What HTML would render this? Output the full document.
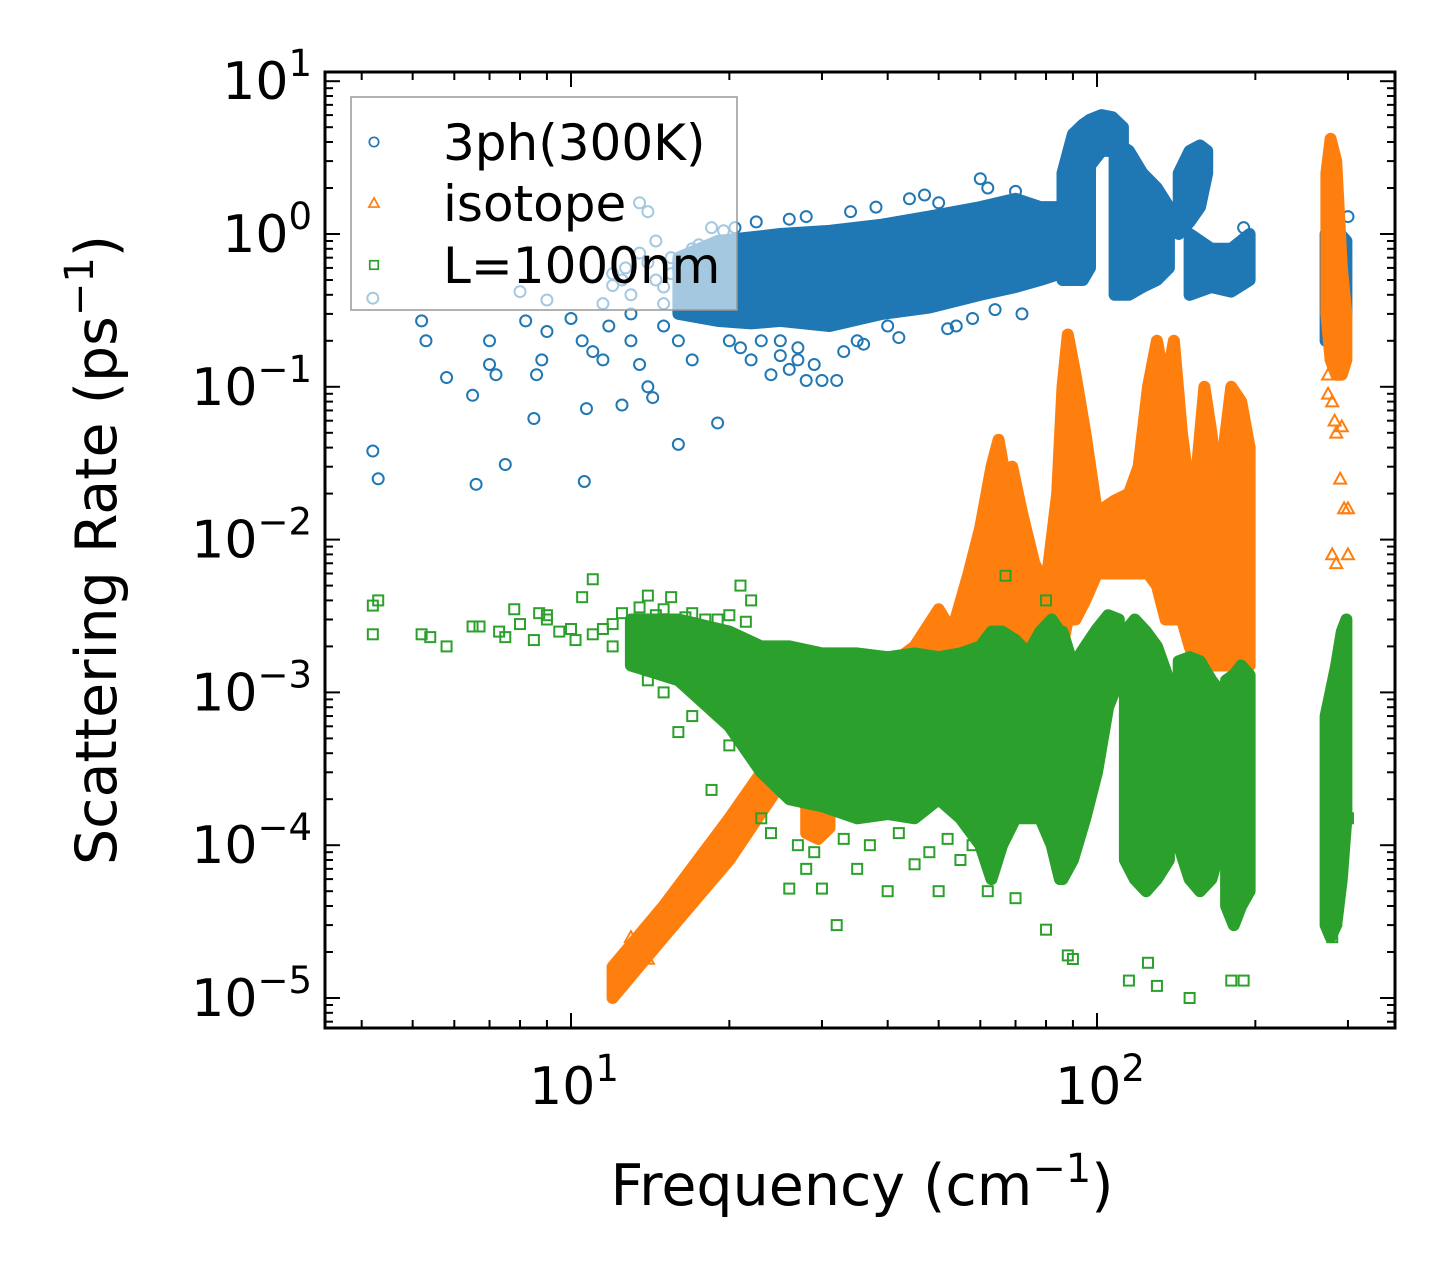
<!DOCTYPE html>
<html><head><meta charset="utf-8"><style>
body{margin:0;background:#fff;}
svg{display:block;font-family:"DejaVu Sans","Liberation Sans",sans-serif;}
</style></head><body>
<svg id="chart" width="1455" height="1278" viewBox="0 0 1455 1278">
<rect x="0" y="0" width="1455" height="1278" fill="#fff"/>
<g id="plot"></g>
<g id="axes"></g>
<g id="legend"></g>
</svg>
<script>
// ---- data (frequency in cm^-1, rate in ps^-1) ----
const blueBand1F=[16,19,22,25,31,39,48,60,70,78,85];
const blueBand1Lo=[0.3,0.27,0.26,0.27,0.25,0.3,0.33,0.4,0.45,0.5,0.55];
const blueBand1Hi=[0.7,0.9,0.95,1.0,1.05,1.15,1.3,1.5,1.7,1.5,1.5];
const blueBand2F=[86,90,94,97];
const blueBand2Lo=[0.5,0.5,0.5,0.6];
const blueBand2Hi=[2.5,4.5,5.2,5.6];
const blueBand3F=[97,102,107,112];
const blueBand3Lo=[2.8,3.5,3.5,3.0];
const blueBand3Hi=[5.6,6.0,5.8,5.0];
const blueBand4F=[108,115,122,130,137];
const blueBand4Lo=[0.4,0.4,0.45,0.5,0.6];
const blueBand4Hi=[4.0,3.5,2.5,2.0,1.5];
const blueBand5F=[143,150,157,162];
const blueBand5Lo=[1.0,1.2,1.5,2.5];
const blueBand5Hi=[2.5,3.5,3.8,3.5];
const blueBand6F=[150,165,180,195];
const blueBand6Lo=[0.4,0.45,0.42,0.5];
const blueBand6Hi=[1.0,0.8,0.8,1.0];
const blueBand7F=[272,280,290,298];
const blueBand7Lo=[0.2,0.2,0.25,0.3];
const blueBand7Hi=[1.0,1.1,1.0,0.9];
const blueF=[4.2,4.2,4.3,5.2,5.3,5.8,6.5,6.6,7,7.2,7.5,8.2,8.5,8.6,8.8,9,9,10,10.5,10.6,10.7,11,11.5,12,12.5,13,13.5,14,14.3,14.5,15,15.5,16,16,17,18,19,13.5,14,18.5,12.7,20,22,24,26,28,30,32,22,17.5,19,11.8,13,15,16.5,18,20,21,23,25,27,24,35,40,45,54,60,62,70,72,50,88,96,190,300,12,13,14,15,16,17,18,11.5,12.5,13.5,14.5,15.5,16.5,17.5,8,7,21,23,25,27,29,33,36,42,52,58,64,47,44,38,34,28,26,22.5,20.5,19.5];
const blueR=[0.38,0.038,0.025,0.27,0.2,0.115,0.088,0.023,0.14,0.12,0.031,0.27,0.062,0.12,0.15,0.23,0.37,0.28,0.2,0.024,0.072,0.17,0.15,0.46,0.076,0.3,0.14,0.1,0.085,0.5,0.25,0.7,0.042,0.2,0.15,0.3,0.058,1.6,1.4,1.1,0.6,0.2,0.15,0.12,0.13,0.11,0.11,0.11,0.4,0.5,0.35,0.25,0.2,0.35,0.3,0.45,0.5,0.3,0.28,0.2,0.18,0.35,0.2,0.25,0.6,0.25,2.3,2.0,1.9,0.3,1.6,1.9,5.0,1.1,1.3,0.55,0.4,0.65,0.45,0.6,0.8,0.7,0.35,0.5,0.75,0.9,0.55,0.65,0.85,0.42,0.2,0.18,0.2,0.16,0.15,0.14,0.17,0.19,0.21,0.24,0.28,0.32,1.8,1.7,1.5,1.4,1.3,1.25,1.2,1.1,1.05];

const orBand1F=[12,15,20,25,28];
const orBand1Lo=[1.0e-5,2.5e-5,8e-5,2.5e-4,4e-4];
const orBand1Hi=[1.6e-5,4e-5,1.5e-4,4.5e-4,8e-4];
const orBand2F=[28,29.5,31];
const orBand2Lo=[1.2e-4,1.1e-4,1.3e-4];
const orBand2Hi=[5e-4,7e-4,5e-4];
const orBand3F=[30,38,45,50,53,57,60,63,65,67,69,72,76,80,84,86,88,91,95,100,108,115,120,125,130,135,140,145,150,155,160,165,170,180,188,195];
const orBand3Lo=[6e-4,5e-4,6e-4,6e-4,7e-4,8e-4,8e-4,1e-3,1e-3,1e-3,1e-3,1e-3,1e-3,1.2e-3,1.5e-3,2e-3,3e-3,3e-3,4e-3,6e-3,6e-3,6e-3,6e-3,6e-3,5e-3,3e-3,3e-3,3e-3,2e-3,1.5e-3,1.5e-3,1.5e-3,1.5e-3,1.5e-3,1.5e-3,1.5e-3];
const orBand3Hi=[1e-3,1.3e-3,2e-3,3.5e-3,2.5e-3,6e-3,1.2e-2,3e-2,4.5e-2,2.5e-2,3e-2,1.5e-2,7e-3,5e-3,2e-2,0.1,0.22,0.12,5e-2,1.5e-2,1.8e-2,2e-2,3e-2,0.1,0.2,0.1,0.2,0.05,0.02,0.03,0.1,0.05,0.02,0.1,0.08,0.04];
const orBand4F=[273,278,285,292,298];
const orBand4Lo=[0.3,0.15,0.12,0.12,0.15];
const orBand4Hi=[2.5,4.2,3.0,0.6,0.3];
const orF=[275,280,285,290,295,300,280,285,300,292,140,120,165,190,150,275,283,13,14,12.5];
const orR=[0.12,0.08,0.05,0.025,0.016,0.016,0.008,0.007,0.008,0.055,0.1,0.01,0.012,0.005,0.003,0.09,0.06,2.5e-5,1.8e-5,1.3e-5];

const grBand1F=[13,16,20,23,26,30,35,40,45,50,55,60,63,66,70,74,78,82,85];
const grBand1Lo=[1.5e-3,1.2e-3,6e-4,3e-4,2e-4,1.8e-4,1.5e-4,1.6e-4,1.5e-4,2e-4,1.5e-4,1e-4,6e-5,1e-4,1.5e-4,1.5e-4,1.5e-4,1e-4,6e-5];
const grBand1Hi=[3e-3,3e-3,2.5e-3,2e-3,2e-3,1.8e-3,1.8e-3,1.7e-3,1.8e-3,1.7e-3,1.8e-3,2e-3,2.5e-3,2.5e-3,2.2e-3,1.8e-3,2.5e-3,3e-3,2.5e-3];
const grBand2F=[86,90,95,100,105,110];
const grBand2Lo=[6e-5,8e-5,1.5e-4,3e-4,8e-4,1.2e-3];
const grBand2Hi=[2.5e-3,1.5e-3,2e-3,2.6e-3,3.2e-3,3e-3];
const grBand3F=[113,118,124,130,137];
const grBand3Lo=[8e-5,6e-5,5e-5,6e-5,8e-5];
const grBand3Hi=[2.5e-3,3e-3,2.5e-3,2e-3,1.2e-3];
const grBand4F=[143,150,157,165,172];
const grBand4Lo=[1e-4,6e-5,5e-5,6e-5,1e-4];
const grBand4Hi=[1.6e-3,1.7e-3,1.6e-3,1.2e-3,1e-3];
const grBand5F=[176,182,188,195];
const grBand5Lo=[4e-5,3e-5,4e-5,5e-5];
const grBand5Hi=[1.2e-3,1.3e-3,1.5e-3,1.3e-3];
const grBand6F=[272,278,285,292,298];
const grBand6Lo=[3e-5,2.5e-5,3e-5,6e-5,1.5e-4];
const grBand6Hi=[7e-4,1e-3,1.5e-3,2.5e-3,3e-3];
const grF=[4.2,4.2,4.3,5.2,5.4,5.8,6.5,6.7,7.3,7.5,7.8,8,8.5,8.7,9,9.5,10.2,10.5,11,11.5,12,14,15.5,18,21,22,14,15,16,17,18.5,20,23,26,28,30,32,35,40,45,50,55,62,70,80,88,90,115,125,150,180,190,280,285,300,67,80,130,9,10,11,12,24,27,29,33,37,42,48,52,58,12.5,13.5,14.5,15,16.5,17,19,20,21.5];
const grR=[2.4e-3,3.7e-3,4e-3,2.4e-3,2.3e-3,2e-3,2.7e-3,2.7e-3,2.5e-3,2.3e-3,3.5e-3,2.8e-3,2.2e-3,3.3e-3,3e-3,2.5e-3,2.2e-3,4.2e-3,5.5e-3,2.6e-3,2e-3,4.3e-3,4.2e-3,3e-3,5e-3,4e-3,1.2e-3,1e-3,5.5e-4,7e-4,2.3e-4,4.5e-4,1.5e-4,5.2e-5,7e-5,5.2e-5,3e-5,7e-5,5e-5,7.5e-5,5e-5,8e-5,5e-5,4.5e-5,2.8e-5,1.9e-5,1.8e-5,1.3e-5,1.7e-5,1e-5,1.3e-5,1.3e-5,2.5e-5,3.2e-5,1.5e-4,5.8e-3,4e-3,1.2e-5,3.2e-3,2.6e-3,2.4e-3,2.8e-3,1.2e-4,1e-4,9e-5,1.1e-4,1e-4,1.2e-4,9e-5,1.1e-4,1e-4,3.3e-3,3.6e-3,3.2e-3,3.5e-3,3.1e-3,3.3e-3,3.0e-3,3.2e-3,2.9e-3];

const xTickVals=[10,100];
const xTickLabels=["1","2"];
const yTickExps=[1,0,-1,-2,-3,-4,-5];
const yTickLabels=["1","0","\u22121","\u22122","\u22123","\u22124","\u22125"];

// ---- axis functions ----
const X0=325,X1=1395,Y0=72,Y1=1028;
function xs(f){return 571+526*(Math.log10(f)-1);}
function ys(r){return 234-152.8*Math.log10(r);}
const NS="http://www.w3.org/2000/svg";
function mk(tag,attrs,parent){const e=document.createElementNS(NS,tag);for(const k in attrs)e.setAttribute(k,attrs[k]);parent.appendChild(e);return e;}

const plot=document.getElementById('plot');
const axes=document.getElementById('axes');
const legend=document.getElementById('legend');
const C={blue:'#1f77b4',orange:'#ff7f0e',green:'#2ca02c'};

function band(F,Lo,Hi,color,name){
  let pts=[];
  for(let i=0;i<F.length;i++)pts.push(xs(F[i]).toFixed(1)+','+ys(Hi[i]).toFixed(1));
  for(let i=F.length-1;i>=0;i--)pts.push(xs(F[i]).toFixed(1)+','+ys(Lo[i]).toFixed(1));
  const p=mk('polygon',{points:pts.join(' '),fill:color,stroke:color,'stroke-width':12,'stroke-linejoin':'round'},plot);
  
  
}
function marker(type,cx,cy,color,parent,s){
  let e;
  if(type==='circle'){e=mk('circle',{cx:cx,cy:cy,r:5.5*s,fill:'none',stroke:color,'stroke-width':2*s},parent);}
  else if(type==='tri'){const h=6*s;e=mk('polygon',{points:`${cx},${cy-h} ${cx-h},${cy+h*0.8} ${cx+h},${cy+h*0.8}`,fill:'none',stroke:color,'stroke-width':2*s},parent);}
  else {const h=5*s;e=mk('rect',{x:cx-h,y:cy-h,width:2*h,height:2*h,fill:'none',stroke:color,'stroke-width':2*s},parent);}
  return e;
}
function scatter(F,R,type,color,name){
  for(let i=0;i<F.length;i++){
    const m=marker(type,xs(F[i]),ys(R[i]),color,plot,1);
    
    
  }
}
// blue
band(blueBand1F,blueBand1Lo,blueBand1Hi,C.blue,'3ph-band');
band(blueBand2F,blueBand2Lo,blueBand2Hi,C.blue,'3ph-band');
band(blueBand3F,blueBand3Lo,blueBand3Hi,C.blue,'3ph-band');
band(blueBand4F,blueBand4Lo,blueBand4Hi,C.blue,'3ph-band');
band(blueBand5F,blueBand5Lo,blueBand5Hi,C.blue,'3ph-band');
band(blueBand6F,blueBand6Lo,blueBand6Hi,C.blue,'3ph-band');
band(blueBand7F,blueBand7Lo,blueBand7Hi,C.blue,'3ph-band');
scatter(blueF,blueR,'circle',C.blue,'3ph-point');
// orange
band(orBand1F,orBand1Lo,orBand1Hi,C.orange,'isotope-band');
band(orBand2F,orBand2Lo,orBand2Hi,C.orange,'isotope-band');
band(orBand3F,orBand3Lo,orBand3Hi,C.orange,'isotope-band');
band(orBand4F,orBand4Lo,orBand4Hi,C.orange,'isotope-band');
scatter(orF,orR,'tri',C.orange,'isotope-point');
// green
band(grBand1F,grBand1Lo,grBand1Hi,C.green,'boundary-band');
band(grBand2F,grBand2Lo,grBand2Hi,C.green,'boundary-band');
band(grBand3F,grBand3Lo,grBand3Hi,C.green,'boundary-band');
band(grBand4F,grBand4Lo,grBand4Hi,C.green,'boundary-band');
band(grBand5F,grBand5Lo,grBand5Hi,C.green,'boundary-band');
band(grBand6F,grBand6Lo,grBand6Hi,C.green,'boundary-band');
scatter(grF,grR,'square',C.green,'boundary-point');

// ---- axes ----
function line(x1,y1,x2,y2,w,parent,name){const l=mk('line',{x1:x1,y1:y1,x2:x2,y2:y2,stroke:'#000','stroke-width':w},parent);return l;}
for(let d=0;d<=2;d++){
  for(let m=1;m<=9;m++){
    const f=m*Math.pow(10,d);
    if(f<3.4||f>369)continue;
    const x=xs(f),L=(m===1)?15:8;
    line(x,Y1,x,Y1-L,2,axes,'x-tick');
    line(x,Y0,x,Y0+L,2,axes,'x-tick-top');
  }
}
for(let e=-6;e<=1;e++){
  for(let m=1;m<=9;m++){
    const r=m*Math.pow(10,e);
    const y=ys(r);
    if(y<Y0-0.5||y>Y1)continue;
    const L=(m===1)?15:8;
    line(X0,y,X0+L,y,2,axes,'y-tick');
    line(X1,y,X1-L,y,2,axes,'y-tick-right');
  }
}
const fr=mk('rect',{x:X0,y:Y0,width:X1-X0,height:Y1-Y0,fill:'none',stroke:'#000','stroke-width':3},axes);

for(let i=0;i<xTickVals.length;i++){
  const t=mk('text',{x:xs(xTickVals[i])+3,y:1104,'font-size':52,'text-anchor':'middle'},axes);
  
  t.textContent='10';
  const s=mk('tspan',{dy:-23,'font-size':37},t);s.textContent=xTickLabels[i];
}
for(let i=0;i<yTickExps.length;i++){
  const y=ys(Math.pow(10,yTickExps[i]));
  const t=mk('text',{x:312,y:y+18,'font-size':52,'text-anchor':'end'},axes);
  
  t.textContent='10';
  const s=mk('tspan',{dy:-23,'font-size':37},t);s.textContent=yTickLabels[i];
}
const xt=mk('text',{x:862,y:1205,'font-size':57,'text-anchor':'middle'},axes);

xt.textContent='Frequency (cm';
let sp=mk('tspan',{dy:-23,'font-size':40},xt);sp.textContent='\u22121';
sp=mk('tspan',{dy:23},xt);sp.textContent=')';
const yt=mk('text',{x:0,y:0,'font-size':57,'text-anchor':'middle',transform:'translate(116,550) rotate(-90)'},axes);

yt.textContent='Scattering Rate (ps';
sp=mk('tspan',{dy:-23,'font-size':40},yt);sp.textContent='\u22121';
sp=mk('tspan',{dy:23},yt);sp.textContent=')';

// ---- legend ----
const lb=mk('rect',{x:351,y:97,width:386,height:213,fill:'#fff','fill-opacity':0.6,stroke:'#999','stroke-width':1.5},legend);

const legTypes=['circle','tri','square'],legCols=[C.blue,C.orange,C.green],legText=['3ph(300K)','isotope','L=1000nm'],legY=[142,203,265];
for(let i=0;i<3;i++){
  const g=mk('g',{},legend);
  
  const m=marker(legTypes[i],374,legY[i],legCols[i],g,0.85);
  
  const t=mk('text',{x:443,y:legY[i]+18,'font-size':50},g);
  
  t.textContent=legText[i];
}
</script>
</body></html>
